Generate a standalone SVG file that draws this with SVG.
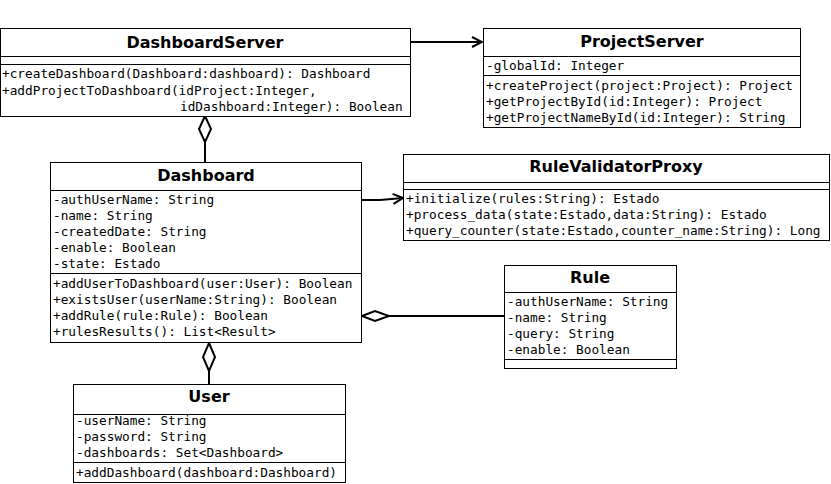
<svg xmlns="http://www.w3.org/2000/svg" width="831" height="484" viewBox="0 0 831 484">
<style>
.box{fill:#fff;stroke:#000;stroke-width:1}
.sep{stroke:#000;stroke-width:1}
.t{font-family:"DejaVu Sans",sans-serif;font-weight:bold;font-size:16px;text-anchor:middle;fill:#000}
.m{font-family:"DejaVu Sans Mono",monospace;font-size:12.75px;fill:#000}
.c{fill:none;stroke:#000;stroke-width:2}
.d{fill:#fff;stroke:#000;stroke-width:2}
</style>
<defs>
<marker id="open" markerWidth="14" markerHeight="14" refX="12" refY="7" orient="auto" markerUnits="userSpaceOnUse">
<path d="M2,2 L12,7 L2,12" fill="none" stroke="#000" stroke-width="2"/>
</marker>
</defs>
<rect width="831" height="484" fill="#fff"/>

<g id="connectors">
<line class="c" x1="410" y1="42" x2="482" y2="42" marker-end="url(#open)"/>
<polyline class="c" points="362,200 380,200 403,198" marker-end="url(#open)"/>
<line class="c" x1="205" y1="142" x2="205" y2="162"/>
<path class="d" d="M205,116 L211,129 L205,142 L199,129 Z"/>
<line class="c" x1="389" y1="316" x2="504" y2="316"/>
<path class="d" d="M362,316 L375,311 L389,316 L375,321 Z"/>
<line class="c" x1="209" y1="371" x2="209" y2="384"/>
<path class="d" d="M209,343 L215,357 L209,371 L203,357 Z"/>
</g>

<g id="DashboardServer">
<rect class="box" x="0.5" y="28.5" width="410" height="88"/>
<line class="sep" x1="0" y1="56.5" x2="411" y2="56.5"/>
<line class="sep" x1="0" y1="64.5" x2="411" y2="64.5"/>
<text class="t" x="205" y="48">DashboardServer</text>
<text class="m" x="2" y="78">+createDashboard(Dashboard:dashboard): Dashboard</text>
<text class="m" x="2" y="95">+addProjectToDashboard(idProject:Integer,</text>
<text class="m" x="180" y="111">idDashboard:Integer): Boolean</text>
</g>

<g id="ProjectServer">
<rect class="box" x="483.5" y="28.5" width="317" height="99"/>
<line class="sep" x1="483" y1="56.5" x2="801" y2="56.5"/>
<line class="sep" x1="483" y1="75.5" x2="801" y2="75.5"/>
<text class="t" x="642" y="47">ProjectServer</text>
<text class="m" x="486" y="70">-globalId: Integer</text>
<text class="m" x="486" y="90">+createProject(project:Project): Project</text>
<text class="m" x="486" y="106">+getProjectById(id:Integer): Project</text>
<text class="m" x="486" y="122">+getProjectNameById(id:Integer): String</text>
</g>

<g id="Dashboard">
<rect class="box" x="50.5" y="162.5" width="311" height="180"/>
<line class="sep" x1="50" y1="190.5" x2="362" y2="190.5"/>
<line class="sep" x1="50" y1="273.5" x2="362" y2="273.5"/>
<text class="t" x="206" y="181">Dashboard</text>
<text class="m" x="53" y="204">-authUserName: String</text>
<text class="m" x="53" y="220">-name: String</text>
<text class="m" x="53" y="236">-createdDate: String</text>
<text class="m" x="53" y="252">-enable: Boolean</text>
<text class="m" x="53" y="268">-state: Estado</text>
<text class="m" x="53" y="288">+addUserToDashboard(user:User): Boolean</text>
<text class="m" x="53" y="304">+existsUser(userName:String): Boolean</text>
<text class="m" x="53" y="320">+addRule(rule:Rule): Boolean</text>
<text class="m" x="53" y="336">+rulesResults(): List&lt;Result&gt;</text>
</g>

<g id="RuleValidatorProxy">
<rect class="box" x="403.5" y="154.5" width="426" height="86"/>
<line class="sep" x1="403" y1="182.5" x2="830" y2="182.5"/>
<line class="sep" x1="403" y1="189.5" x2="830" y2="189.5"/>
<text class="t" x="616" y="172">RuleValidatorProxy</text>
<text class="m" x="406" y="203">+initialize(rules:String): Estado</text>
<text class="m" x="406" y="219">+process_data(state:Estado,data:String): Estado</text>
<text class="m" x="406" y="235">+query_counter(state:Estado,counter_name:String): Long</text>
</g>

<g id="Rule">
<rect class="box" x="504.5" y="265.5" width="172" height="103"/>
<line class="sep" x1="504" y1="292.5" x2="677" y2="292.5"/>
<line class="sep" x1="504" y1="359.5" x2="677" y2="359.5"/>
<text class="t" x="590" y="283">Rule</text>
<text class="m" x="507" y="306">-authUserName: String</text>
<text class="m" x="507" y="322">-name: String</text>
<text class="m" x="507" y="338">-query: String</text>
<text class="m" x="507" y="354">-enable: Boolean</text>
</g>

<g id="User">
<rect class="box" x="73.5" y="384.5" width="272" height="98"/>
<line class="sep" x1="73" y1="414.5" x2="346" y2="414.5"/>
<line class="sep" x1="73" y1="462.5" x2="346" y2="462.5"/>
<text class="t" x="209" y="402">User</text>
<text class="m" x="76" y="425">-userName: String</text>
<text class="m" x="76" y="441">-password: String</text>
<text class="m" x="76" y="457">-dashboards: Set&lt;Dashboard&gt;</text>
<text class="m" x="76" y="477">+addDashboard(dashboard:Dashboard)</text>
</g>
</svg>
